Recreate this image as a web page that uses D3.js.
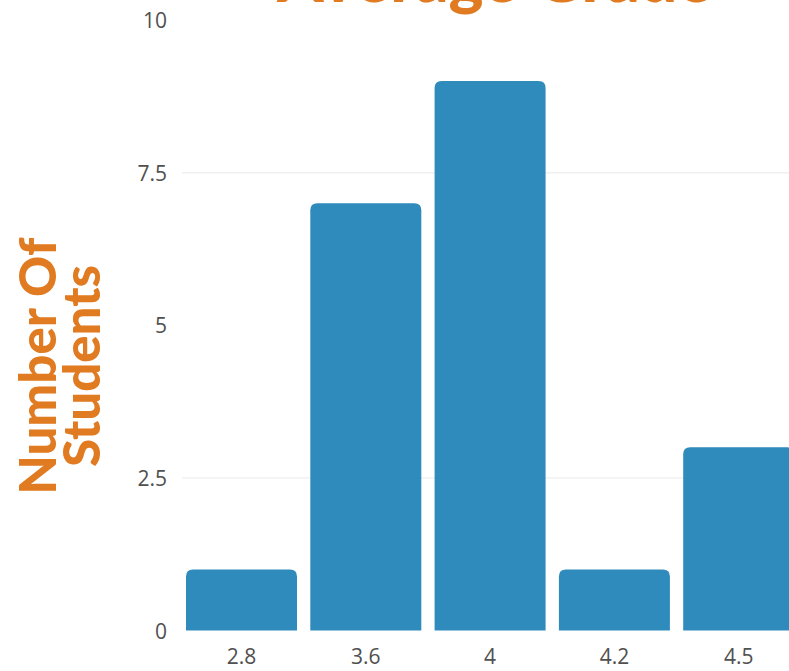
<!DOCTYPE html>
<html>
<head>
<meta charset="utf-8">
<script src="https://cdn.jsdelivr.net/npm/d3@7/dist/d3.min.js"></script>
<style>
  html, body { margin: 0; padding: 0; background: #fff; overflow: hidden; }
  svg { display: block; }
</style>
</head>
<body>
<svg id="chart" width="789" height="671"></svg>
<script>
const categories = ["2.8", "3.6", "4", "4.2", "4.5"];
const counts = [1, 7, 9, 1, 3];
const yTicks = [0, 2.5, 5, 7.5, 10];
const yTickLabels = ["0", "2.5", "5", "7.5", "10"];
const gridValues = [2.5, 7.5];
const titleText = "Average Grade";
const yTitleLines = ["Number Of", "Students"];

const W = 789, H = 671;
const svg = d3.select("#chart");

const x = d3.scaleBand()
  .domain(categories)
  .range([179.35, 800.85])
  .paddingInner(0.107)
  .paddingOuter(0.0535);

const y = d3.scaleLinear().domain([0, 10]).range([630.5, 20]);

// grid lines
svg.append("g")
  .selectAll("line")
  .data(gridValues)
  .join("line")
  .attr("x1", 182).attr("x2", W)
  .attr("y1", d => y(d)).attr("y2", d => y(d))
  .attr("stroke", "#f0f0f0").attr("stroke-width", 1.5);

// y axis
const yAxis = d3.axisLeft(y)
  .tickValues(yTicks)
  .tickFormat((d, i) => yTickLabels[i])
  .tickSize(0).tickPadding(0);
const gy = svg.append("g").attr("transform", "translate(167,1)").call(yAxis);
gy.select(".domain").remove();
gy.selectAll("text")
  .attr("font-family", "'Open Sans', Lato, sans-serif")
  .attr("font-size", 21)
  .attr("fill", "#505050");

// x axis
const xAxis = d3.axisBottom(x).tickSize(0).tickPadding(0);
const gx = svg.append("g").attr("transform", "translate(0,649)").call(xAxis);
gx.select(".domain").remove();
gx.selectAll("text")
  .attr("font-family", "'Open Sans', Lato, sans-serif")
  .attr("font-size", 21)
  .attr("fill", "#505050");

// bars with rounded top corners
const r = 7;
function barPath(d) {
  const x0 = x(d.cat), w = x.bandwidth();
  const yt = y(d.v), yb = y(0);
  const rr = Math.min(r, (yb - yt));
  return `M${x0},${yb} L${x0},${yt + rr} Q${x0},${yt} ${x0 + rr},${yt} ` +
         `L${x0 + w - rr},${yt} Q${x0 + w},${yt} ${x0 + w},${yt + rr} L${x0 + w},${yb} Z`;
}
svg.append("g")
  .selectAll("path")
  .data(categories.map((c, i) => ({ cat: c, v: counts[i] })))
  .join("path")
  .attr("d", barPath)
  .attr("fill", "#2e8bbc");

// title (cropped at top, as in the reference)
svg.append("text")
  .attr("x", 495).attr("y", 2)
  .attr("text-anchor", "middle")
  .attr("font-family", "Lato, 'Open Sans', sans-serif")
  .attr("font-weight", "900")
  .attr("font-size", 66)
  .attr("fill", "#e07b22")
  .text(titleText);

// y axis title
const yt = svg.append("text")
  .attr("transform", "translate(0,366) rotate(-90)")
  .attr("text-anchor", "middle")
  .attr("font-family", "Lato, 'Open Sans', sans-serif")
  .attr("font-weight", "900")
  .attr("font-size", 51)
  .attr("fill", "#e07b22");
yTitleLines.forEach((t, i) => {
  yt.append("tspan").attr("x", 0).attr("y", 56 + i * 44).text(t);
});
</script>
</body>
</html>
